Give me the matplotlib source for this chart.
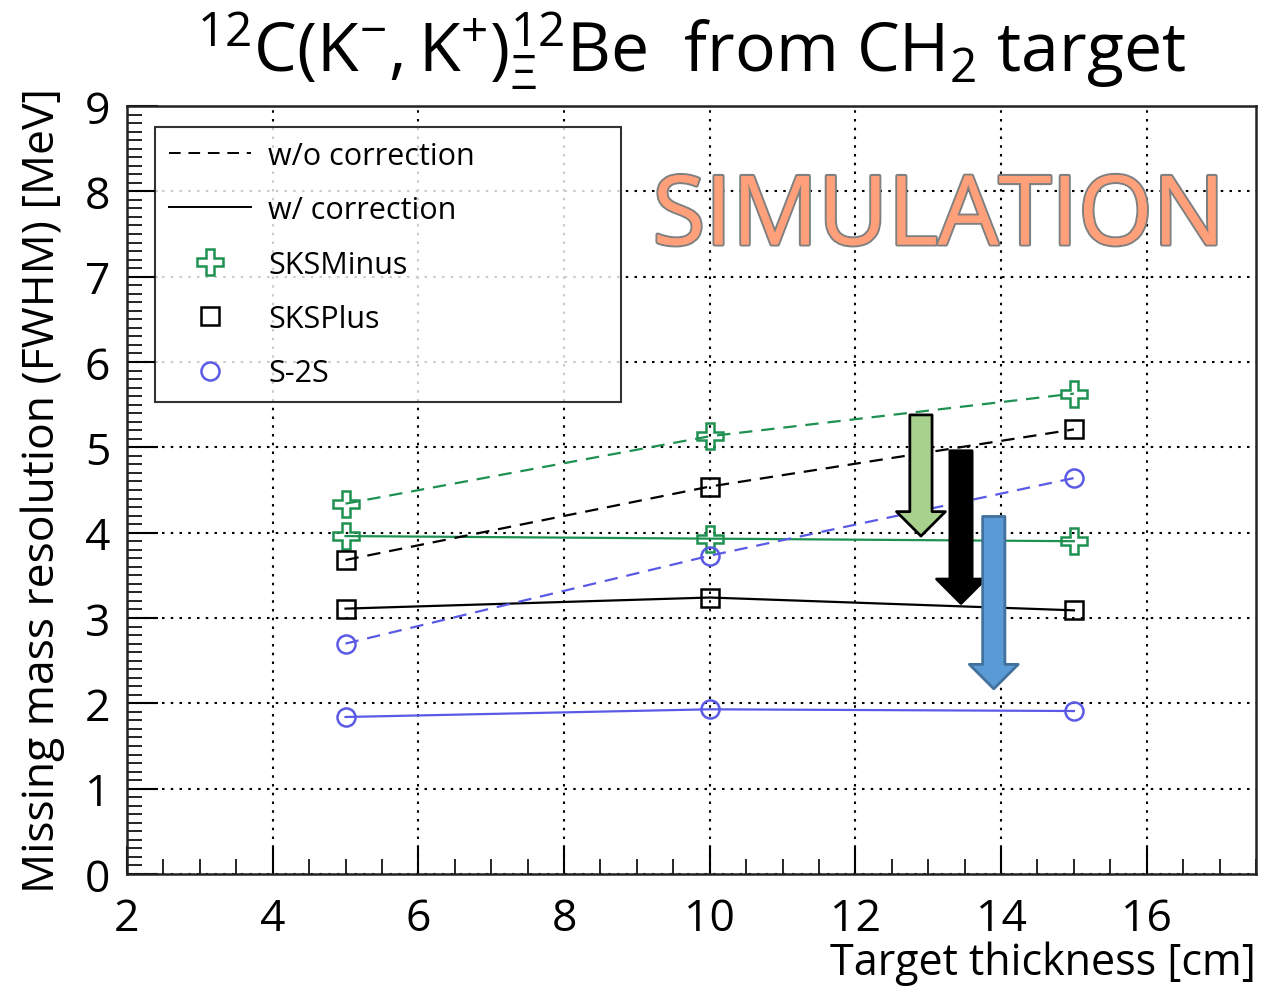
import matplotlib.pyplot as plt
import matplotlib.patheffects as pe
from matplotlib.lines import Line2D
from matplotlib.ticker import MultipleLocator, AutoMinorLocator

plt.rcParams['font.family'] = ['Open Sans', 'DejaVu Sans']
plt.rcParams['mathtext.fontset'] = 'custom'
plt.rcParams['mathtext.rm'] = 'Open Sans'
plt.rcParams['mathtext.it'] = 'Open Sans'

# target thickness [cm]
thickness = [5, 10, 15]

# missing mass resolution (FWHM) [MeV]
sksminus_wo = [4.34, 5.13, 5.63]
sksminus_w = [3.96, 3.93, 3.90]
sksplus_wo = [3.68, 4.54, 5.21]
sksplus_w = [3.11, 3.24, 3.09]
s2s_wo = [2.70, 3.73, 4.64]
s2s_w = [1.84, 1.93, 1.91]

# improvement arrows (x, y_start, y_end)
arrow_x = [12.9, 13.45, 13.9]
arrow_top = [5.38, 4.96, 4.19]
arrow_bottom = [3.96, 3.17, 2.17]
arrow_face = ['#A9D18E', '#000000', '#5B9BD5']
arrow_edge = ['#000000', '#000000', '#41719C']

GREEN = '#1E9150'
BLACK = '#000000'
BLUE = '#5A5AE6'

fig = plt.figure(figsize=(12.62, 9.87), dpi=100)
ax = fig.add_axes([127 / 1262, 1 - 875 / 987, (1256 - 127) / 1262, (875 - 107) / 987])

series = [
    (sksminus_wo, sksminus_w, GREEN, 'P', 19),
    (sksplus_wo, sksplus_w, BLACK, 's', 13),
    (s2s_wo, s2s_w, BLUE, 'o', 13),
]
for wo, w, col, mk, ms in series:
    ax.plot(thickness, wo, ls=(0, (6, 4)), color=col, lw=1.6, marker=mk, ms=ms,
            mfc='none', mec=col, mew=1.8, zorder=4)
    ax.plot(thickness, w, ls='-', color=col, lw=1.6, marker=mk, ms=ms,
            mfc='none', mec=col, mew=1.8, zorder=4)

for x, y0, y1, fc, ec in zip(arrow_x, arrow_top, arrow_bottom, arrow_face, arrow_edge):
    ax.annotate('', xy=(x, y1), xytext=(x, y0),
                arrowprops=dict(arrowstyle='simple,head_length=1.1,head_width=2.2,tail_width=1.0',
                                fc=fc, ec=ec, lw=2, mutation_scale=16, shrinkA=0, shrinkB=0),
                zorder=5)

ax.set_xlim(2, 17.5)
ax.set_ylim(0, 9)
ax.xaxis.set_major_locator(MultipleLocator(2))
ax.xaxis.set_minor_locator(MultipleLocator(0.5))
ax.yaxis.set_major_locator(MultipleLocator(1))
ax.yaxis.set_minor_locator(AutoMinorLocator(10))
ax.tick_params(which='both', direction='in', top=False, right=False)
ax.tick_params(which='major', length=22, width=1.5, labelsize=32, pad=12)
ax.tick_params(axis='x', which='major', length=20, pad=16)
ax.tick_params(which='minor', length=11, width=1.2)
ax.grid(True, which='major', ls=(0, (1.2, 3)), color='black', lw=1.5)
for s in ax.spines.values():
    s.set_linewidth(1.8)
    s.set_color('#222222')

ax.set_xlabel('Target thickness [cm]', fontsize=31, loc='right', labelpad=0)
ax.set_ylabel('Missing mass resolution (FWHM) [MeV]', fontsize=32, labelpad=14)

ax.text(0.5, 1.02, r'$^{12}\mathrm{C(K^{-},K^{+})}^{12}_{\Xi}\mathrm{Be}$  from CH$_2$ target',
        transform=ax.transAxes, ha='center', va='bottom', fontsize=49, color='black')

ax.text(0.973, 0.852, 'SIMULATION', transform=ax.transAxes, ha='right', va='center',
        fontsize=69, color='#FFA07A', zorder=6,
        path_effects=[pe.withStroke(linewidth=3, foreground='#808080'), pe.Normal()])

handles = [
    Line2D([], [], color='black', ls=(0, (6, 4)), lw=1.4),
    Line2D([], [], color='black', ls='-', lw=1.4),
    Line2D([], [], ls='none', marker='P', ms=19, mfc='none', mec=GREEN, mew=1.8),
    Line2D([], [], ls='none', marker='s', ms=13, mfc='none', mec=BLACK, mew=1.8),
    Line2D([], [], ls='none', marker='o', ms=13, mfc='none', mec=BLUE, mew=1.8),
]
labels = ['w/o correction', 'w/ correction', 'SKSMinus', 'SKSPlus', 'S-2S']
leg = ax.legend(handles, labels, loc='upper left',
                bbox_to_anchor=(0.0248, 0.6255, 0.413, 0.3472), mode='expand',
                fontsize=22, frameon=True, fancybox=False, edgecolor='black',
                handlelength=2.7, handletextpad=0.55, labelspacing=0.8,
                borderpad=0.45, borderaxespad=0)
leg.get_frame().set_linewidth(1.5)
leg.set_zorder(7)

fig.savefig('out.png', dpi=100, facecolor='white')
